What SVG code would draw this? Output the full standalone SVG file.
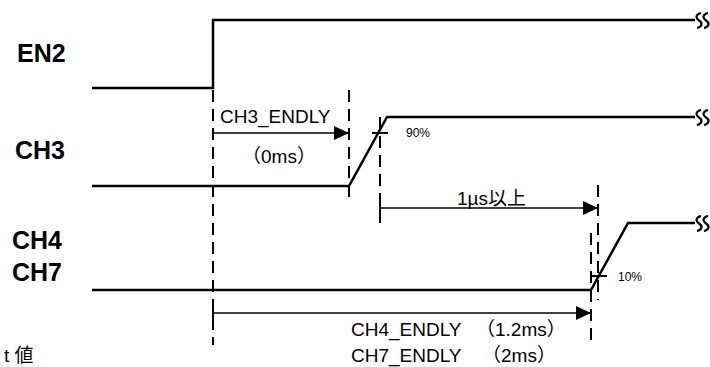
<svg xmlns="http://www.w3.org/2000/svg" width="710" height="367" viewBox="0 0 710 367">
<defs>
<style>
.sig{fill:none;stroke:#000;stroke-width:2.5;stroke-linejoin:miter}
.brk{fill:none;stroke:#000;stroke-width:2.2}
.dash{fill:none;stroke:#000;stroke-width:2;stroke-dasharray:12 7}
.arr{fill:none;stroke:#000;stroke-width:1.6}
.solid{fill:none;stroke:#000;stroke-width:2}
.lbl{font-family:"Liberation Sans",Arial,sans-serif;font-weight:bold;font-size:25px;fill:#000}
.t{font-family:"Liberation Sans","Noto Sans CJK JP",sans-serif;font-size:19px;fill:#000}
.s{font-family:"Liberation Sans","Noto Sans CJK JP",sans-serif;font-size:12px;fill:#000}
</style>
<marker id="ah" markerUnits="userSpaceOnUse" markerWidth="16" markerHeight="14" refX="15" refY="7" orient="auto">
<path d="M0,0 L15,7 L0,14 z" fill="#000"/>
</marker>
<path id="sq" d="M0,0 c-5,1 -6,5 -2,7.5 c4,2.5 3,6.5 -2,7.5 M7,0 c-5,1 -6,5 -2,7.5 c4,2.5 3,6.5 -2,7.5"/>
</defs>
<rect width="710" height="367" fill="#fff"/>

<g id="en2">
<text class="lbl" x="17" y="62">EN2</text>
<polyline class="sig" points="92,88 213,88 213,20 695,20"/>
<use href="#sq" class="brk" x="701" y="13"/>
</g>

<g id="ch3">
<text class="lbl" x="15" y="159">CH3</text>
<polyline class="sig" points="92,186 349,186 387,117 695,117"/>
<use href="#sq" class="brk" x="701" y="110"/>
<line class="solid" x1="372" y1="133" x2="388" y2="133"/>
<text class="s" x="406" y="137">90%</text>
</g>

<g id="ch4ch7">
<text class="lbl" x="12" y="249">CH4</text>
<text class="lbl" x="12" y="281">CH7</text>
<polyline class="sig" points="92,290 591,290 628,223 695,223"/>
<use href="#sq" class="brk" x="701" y="216"/>
<line class="solid" x1="591" y1="276" x2="607" y2="276"/>
<text class="s" x="618" y="281">10%</text>
</g>

<g id="connectors">
<line class="dash" x1="213" y1="90" x2="213" y2="345"/>
<line class="dash" x1="349" y1="90" x2="349" y2="200"/>
<line class="dash" x1="380" y1="117" x2="380" y2="200"/>
<line class="solid" x1="380" y1="200" x2="380" y2="223"/>
<line class="dash" x1="598" y1="185" x2="598" y2="300"/>
<line class="dash" x1="591" y1="233" x2="591" y2="345"/>
<line class="solid" x1="213" y1="305" x2="213" y2="319"/>
<line class="arr" x1="213" y1="133" x2="349" y2="133" marker-end="url(#ah)"/>
<line class="arr" x1="380" y1="208" x2="598" y2="208" marker-end="url(#ah)"/>
<line class="arr" x1="213" y1="313" x2="591" y2="313" marker-end="url(#ah)"/>
</g>

<g id="labels">
<text class="t" x="220" y="123" font-size="18">CH3_ENDLY</text>
<text class="t" x="242" y="163">（0ms）</text>
<text class="t" x="457" y="205" font-size="12.5">1µs以上</text>
<text class="t" x="351" y="336">CH4_ENDLY<tspan x="476">（1.2ms）</tspan></text>
<text class="t" x="351" y="362">CH7_ENDLY <tspan x="482">（2ms）</tspan></text>
<text class="t" x="4" y="362">t 値</text>
</g>
</svg>
